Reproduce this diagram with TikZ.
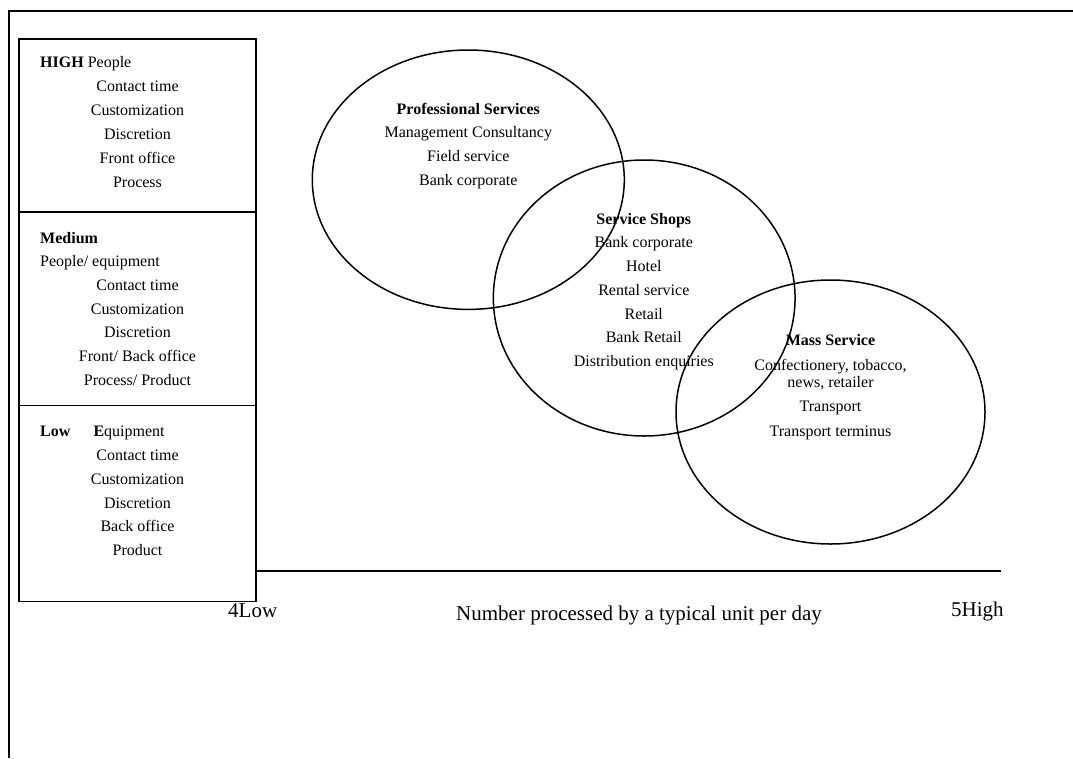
\documentclass[tikz,border=0pt]{standalone}
\usepackage{fontspec}
\setmainfont{Liberation Serif}
\usetikzlibrary{shapes.geometric}
\begin{document}
\begin{tikzpicture}[x=1pt,y=-1pt,
  txt/.style={inner sep=0pt,anchor=base,font=\fontsize{16}{24}\selectfont},
  hdr/.style={inner sep=0pt,anchor=base west,font=\fontsize{16}{24}\selectfont},
  axislbl/.style={inner sep=0pt,anchor=base west,font=\fontsize{21}{25}\selectfont},
  rule/.style={line width=1.6pt},
  region/.style={draw,line width=1.5pt,ellipse,inner sep=0pt}]
\useasboundingbox (0,0) rectangle (1073,758);

% outer frame (left and top sides)
\draw[rule] (9,758) -- (9,11) -- (1073,11);

% left box with its three bands
\draw[rule] (19,39) rectangle (256,601.5);
\draw[rule] (19,212) -- (256,212);
\draw[rule] (19,405.5) -- (256,405.5);

% horizontal axis
\coordinate (axL) at (256,571);
\coordinate (axR) at (1001,571);
\draw[rule] (axL) -- (axR);

% HIGH band
\node[hdr] (hiH) at (40,67.7) {\textbf{HIGH} People};
\foreach \t [count=\i from 0] in {Contact time,Customization,Discretion,Front office,Process}
  \node[txt] (hi\i) at (137.5,{91.7+24*\i}) {\t};

% Medium band
\node[hdr] (meH) at (40,243.3) {\textbf{Medium}};
\node[hdr] (meS) at (40,266.5) {People/ equipment};
\foreach \t [count=\i from 0] in {Contact time,Customization,Discretion,Front/ Back office,Process/ Product}
  \node[txt] (me\i) at (137.5,{290.3+23.7*\i}) {\t};

% Low band
\node[hdr] (loH) at (40,436.7) {\textbf{Low}};
\node[hdr] (loS) at (93.3,436.7) {\textbf{E}quipment};
\foreach \t [count=\i from 0] in {Contact time,Customization,Discretion,Back office,Product}
  \node[txt] (lo\i) at (137.5,{460.7+23.7*\i}) {\t};

% service regions
\node[region,minimum width=312pt,minimum height=259.4pt] (prof) at (468.3,179.7) {};
\node[region,minimum width=301.7pt,minimum height=276pt] (shop) at (644.2,298) {};
\node[region,minimum width=309pt,minimum height=264pt] (mass) at (830.5,412) {};

% Professional Services
\node[txt] (pfT) at (468.3,114) {\textbf{Professional Services}};
\foreach \t [count=\i from 0] in {Management Consultancy,Field service,Bank corporate}
  \node[txt] (pf\i) at (468.3,{137.7+24*\i}) {\t};

% Service Shops
\node[txt] (ssT) at (643.8,224) {\textbf{Service Shops}};
\foreach \t [count=\i from 0] in {Bank corporate,Hotel,Rental service,Retail,Bank Retail,Distribution enquiries}
  \node[txt] (ss\i) at (643.8,{247.7+23.8*\i}) {\t};

% Mass Service
\node[txt] (msT) at (830.5,345.7) {\textbf{Mass Service}};
\node[txt] (ms0) at (830.5,370) {Confectionery, tobacco,};
\node[txt] (ms1) at (830.5,387.7) {news, retailer};
\node[txt] (ms2) at (830.5,411.7) {Transport};
\node[txt] (ms3) at (830.5,436) {Transport terminus};

% axis labels
\node[axislbl] (lowlbl) at (228,617) {4Low};
\node[axislbl] (axlbl) at (456,620) {Number processed by a typical unit per day};
\node[axislbl] (highlbl) at (951,616) {5High};
\end{tikzpicture}
\end{document}
